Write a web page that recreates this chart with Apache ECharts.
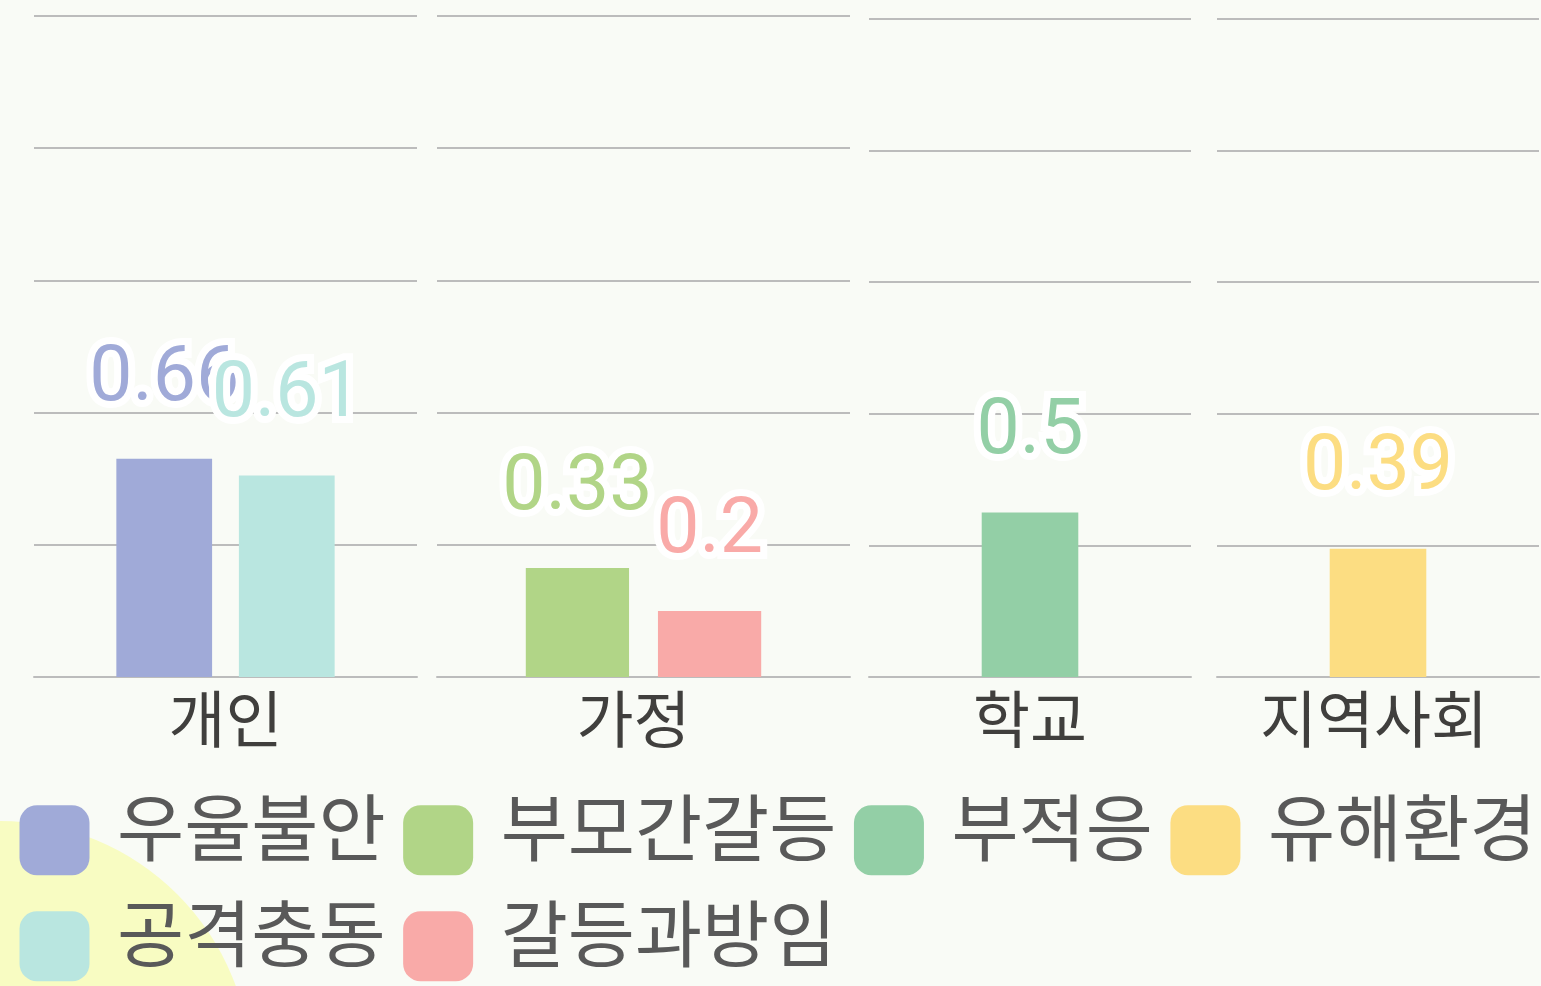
<!DOCTYPE html>
<html>
<head>
<meta charset="utf-8">
<script src="https://cdn.jsdelivr.net/npm/echarts@6/dist/echarts.min.js"></script>
<style>
html,body{margin:0;padding:0;background:#f9fbf6;}
#chart{width:1541px;height:986px;}
</style>
</head>
<body>
<div id="chart"></div>
<script>
// ---- data ----
const categories = ['개인', '가정', '학교', '지역사회'];
const seriesNames = ['우울불안', '공격충동', '부모간갈등', '갈등과방임', '부적응', '유해환경'];
const seriesPanel = [0, 0, 1, 1, 2, 3];
const seriesValues = [0.66, 0.61, 0.33, 0.2, 0.5, 0.39];
const legendRow1 = ['우울불안', '부모간갈등', '부적응', '유해환경'];
const legendRow2 = ['공격충동', '갈등과방임'];
const yMin = 0, yMax = 2, yInterval = 0.4;

// ---- styles ----
const colors = {
  '우울불안': '#a0aad8',
  '공격충동': '#b9e6e0',
  '부모간갈등': '#b1d587',
  '갈등과방임': '#f9aaa8',
  '부적응': '#93cfa6',
  '유해환경': '#fcdd82'
};
const grids = [
  {left: 34, width: 383, top: 16, height: 661},
  {left: 437, width: 413, top: 16, height: 661},
  {left: 869, width: 322, top: 19, height: 658},
  {left: 1217, width: 322, top: 19, height: 658}
];
const labelPads = [[0, 0, 0, 0], [0, 20, 0, 0], [0, 0, 0, 0], [0, 8, 0, 0]];
const gridLineColor = '#bcbcbc';

const chart = echarts.init(document.getElementById('chart'));

const panelCounts = [0, 0, 0, 0];
seriesPanel.forEach(p => panelCounts[p]++);

function makeLegend(names, top) {
  return {
    data: names,
    left: 14.5,
    top: top,
    width: 1560,
    itemWidth: 70,
    itemHeight: 70,
    itemGap: 17.5,
    icon: 'roundRect',
    formatter: name => '{t|' + name + '}',
    textStyle: {
      color: '#595959',
      rich: {
        t: {
          fontSize: 73, color: '#595959', fontFamily: 'Noto Sans CJK KR',
          lineHeight: 63, height: 63, padding: [0, 0, 26, 22.5]
        }
      }
    }
  };
}

const option = {
  backgroundColor: '#f9fbf6',
  animation: false,
  graphic: [{
    type: 'circle',
    shape: {cx: 0, cy: 1072, r: 251},
    style: {fill: '#f8fcc2'},
    z: -10
  }],
  grid: grids.map(g => Object.assign({containLabel: false}, g)),
  xAxis: categories.map((c, i) => ({
    type: 'category',
    gridIndex: i,
    data: [c],
    axisLine: {show: true, lineStyle: {color: gridLineColor, width: 2}},
    axisTick: {show: false},
    axisLabel: {fontSize: 62, color: '#403f3d', fontFamily: 'Noto Sans CJK KR', margin: 11, padding: labelPads[i]}
  })),
  yAxis: categories.map((c, i) => ({
    type: 'value',
    gridIndex: i,
    min: yMin, max: yMax, interval: yInterval,
    axisLine: {show: false},
    axisTick: {show: false},
    axisLabel: {show: false},
    splitLine: {show: true, lineStyle: {color: gridLineColor, width: 2}}
  })),
  legend: [makeLegend(legendRow1, 785.75), makeLegend(legendRow2, 891.75)],
  series: seriesNames.map((name, k) => {
    const p = seriesPanel[k];
    return {
      name: name,
      type: 'bar',
      xAxisIndex: p,
      yAxisIndex: p,
      data: [seriesValues[k]],
      barWidth: panelCounts[p] > 1 ? '25%' : '30%',
      barGap: '28%',
      itemStyle: {color: colors[name]},
      label: {
        show: true,
        position: 'top',
        distance: 40,
        fontSize: 77,
        fontFamily: 'Roboto',
        color: colors[name],
        textBorderColor: '#ffffff',
        textBorderWidth: 14
      }
    };
  })
};
chart.setOption(option);
</script>
</body>
</html>
